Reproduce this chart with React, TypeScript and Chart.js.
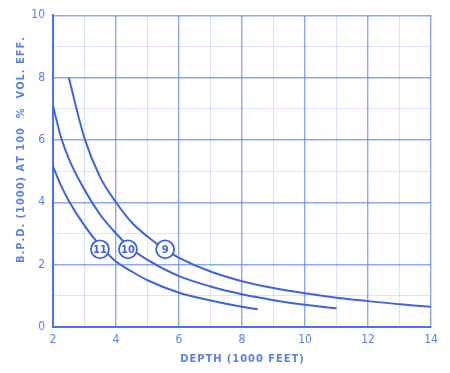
import { useEffect, useRef } from "react";
import { Chart, registerables } from "chart.js";

Chart.register(...registerables);

const curve9X = [2.5, 3, 3.5, 4, 4.5, 5, 5.5, 6, 7, 8, 9, 10, 11, 12, 13, 14];
const curve9Y = [8.0, 6.05, 4.8, 4.0, 3.35, 2.9, 2.52, 2.22, 1.78, 1.47, 1.25, 1.08, 0.94, 0.83, 0.73, 0.65];
const curve10X = [2, 2.25, 2.5, 3, 3.5, 4, 4.5, 5, 6, 7, 8, 9, 10, 11];
const curve10Y = [7.1, 6.1, 5.4, 4.4, 3.6, 3.0, 2.5, 2.15, 1.63, 1.3, 1.05, 0.86, 0.71, 0.6];
const curve11X = [2, 2.25, 2.5, 3, 3.5, 4, 4.5, 5, 6, 7, 8, 8.5];
const curve11Y = [5.15, 4.55, 4.05, 3.25, 2.6, 2.1, 1.78, 1.5, 1.1, 0.85, 0.65, 0.57];

const curveLabels = ["9", "10", "11"];
const labelX = [5.56, 4.38, 3.49];
const labelY = [2.49, 2.49, 2.49];

const xTicks = [2, 4, 6, 8, 10, 12, 14];
const yTicks = [0, 2, 4, 6, 8, 10];

const xTitle = "DEPTH (1000 FEET)";
const yTitle = "B.P.D. (1000) AT 100  %  VOL. EFF.";

const LINE = "#3f63e0";
const TEXT = "#5a7fe8";
const BORDER = "#4d72ea";
const MAJOR = "rgba(95,135,240,0.72)";
const MINOR = "rgba(120,155,240,0.28)";
const FONT = "'DejaVu Sans Condensed', 'Liberation Sans Narrow', sans-serif";

const toPts = (xs: number[], ys: number[]) => xs.map((x, i) => ({ x, y: ys[i] }));

const overlay = {
  id: "overlay",
  afterDatasetsDraw(chart: any) {
    const ctx = chart.ctx;
    const xs = chart.scales.x;
    const ys = chart.scales.y;
    ctx.save();
    for (let i = 0; i < curveLabels.length; i++) {
      const px = xs.getPixelForValue(labelX[i]);
      const py = ys.getPixelForValue(labelY[i]);
      ctx.beginPath();
      ctx.arc(px, py, 9, 0, Math.PI * 2);
      ctx.fillStyle = "#ffffff";
      ctx.fill();
      ctx.lineWidth = 1.8;
      ctx.strokeStyle = LINE;
      ctx.stroke();
      ctx.fillStyle = LINE;
      ctx.font = `bold 11px ${FONT}`;
      ctx.textAlign = "center";
      ctx.textBaseline = "middle";
      ctx.fillText(curveLabels[i], px, py + 0.5);
    }
    ctx.fillStyle = TEXT;
    ctx.font = `bold 11px ${FONT}`;
    ctx.textAlign = "center";
    ctx.textBaseline = "middle";
    ctx.fillText(xTitle.split("").join(String.fromCharCode(8202)), (xs.left + xs.right) / 2, 359);
    ctx.translate(21, 150);
    ctx.rotate(-Math.PI / 2);
    ctx.fillText(yTitle.split("").join(String.fromCharCode(8202)), 0, 0);
    ctx.restore();
  },
};

export default function App() {
  const ref = useRef<HTMLCanvasElement>(null);
  useEffect(() => {
    if (!ref.current) return;
    const mk = (xs: number[], ys: number[]) => ({
      data: toPts(xs, ys),
      borderColor: LINE,
      borderWidth: 2,
      pointRadius: 0,
      fill: false,
      cubicInterpolationMode: "monotone" as const,
    });
    const chart = new Chart(ref.current, {
      type: "line",
      data: {
        datasets: [mk(curve9X, curve9Y), mk(curve10X, curve10Y), mk(curve11X, curve11Y)],
      },
      options: {
        animation: false,
        responsive: true,
        maintainAspectRatio: false,
        layout: { padding: { left: 0, right: 19, top: 14, bottom: 0 } },
        plugins: { legend: { display: false }, tooltip: { enabled: false } },
        scales: {
          x: {
            type: "linear",
            min: 2,
            max: 14,
            afterFit: (s: any) => { s.height = 46; },
            afterBuildTicks: (s: any) => {
              const t = [];
              for (let v = 2; v <= 14; v++) t.push({ value: v });
              s.ticks = t;
            },
            border: { display: true, color: BORDER, width: 2 },
            grid: {
              color: (c: any) => (xTicks.includes(c.tick?.value) ? MAJOR : MINOR),
              lineWidth: (c: any) => (xTicks.includes(c.tick?.value) ? 1.4 : 1),
              drawTicks: false,
            },
            ticks: {
              color: TEXT,
              font: { family: FONT, size: 12 },
              padding: 6,
              maxRotation: 0,
              autoSkip: false,
              callback: (v: any) => (xTicks.includes(v) ? String(v) : ""),
            },
          },
          y: {
            type: "linear",
            min: 0,
            max: 10,
            afterFit: (s: any) => { s.width = 53; },
            afterBuildTicks: (s: any) => {
              const t = [];
              for (let v = 0; v <= 10; v++) t.push({ value: v });
              s.ticks = t;
            },
            border: { display: true, color: BORDER, width: 2 },
            grid: {
              color: (c: any) => (yTicks.includes(c.tick?.value) ? MAJOR : MINOR),
              lineWidth: (c: any) => (yTicks.includes(c.tick?.value) ? 1.4 : 1),
              drawTicks: false,
            },
            ticks: {
              color: TEXT,
              font: { family: FONT, size: 12 },
              padding: 8,
              autoSkip: false,
              callback: (v: any) => (yTicks.includes(v) ? String(v) : ""),
            },
          },
        },
      },
      plugins: [overlay],
    });
    return () => chart.destroy();
  }, []);
  return (
    <div style={{ position: "fixed", left: 0, top: 0, width: 450, height: 373, background: "#fff" }}>
      <canvas ref={ref} />
    </div>
  );
}
